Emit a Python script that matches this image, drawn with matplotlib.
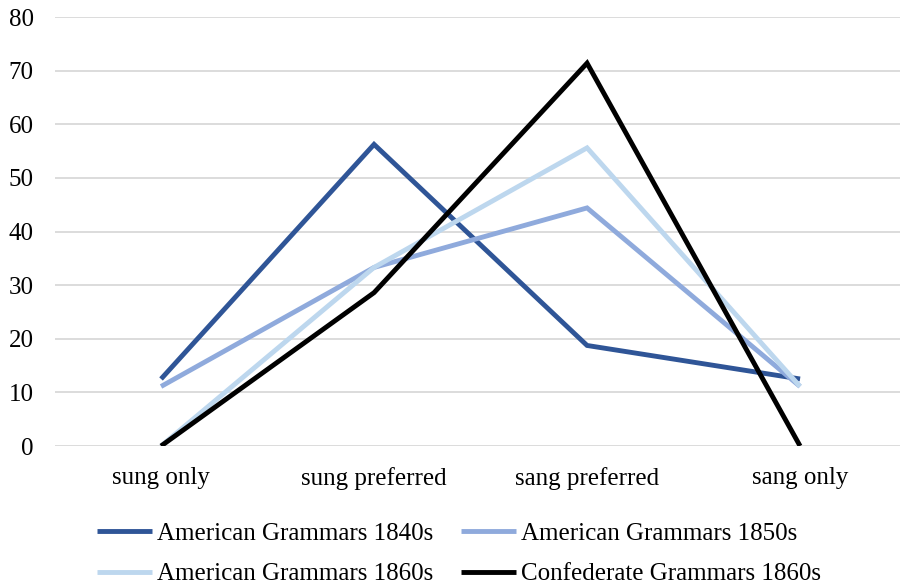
import matplotlib
matplotlib.use("Agg")
import matplotlib.pyplot as plt

# Share of grammars (%) recommending each past-tense form
categories = ["sung only", "sung preferred", "sang preferred", "sang only"]
american_1840s = [12.5, 56.25, 18.75, 12.5]
american_1850s = [11.1, 33.3, 44.4, 11.1]
american_1860s = [0, 33.3, 55.6, 11.1]
confederate_1860s = [0, 28.6, 71.4, 0]

series = [
    ("American Grammars 1840s", american_1840s, "#2F5597"),
    ("American Grammars 1850s", american_1850s, "#8FAADC"),
    ("American Grammars 1860s", american_1860s, "#BDD7EE"),
    ("Confederate Grammars 1860s", confederate_1860s, "#000000"),
]

plt.rcParams["font.family"] = ["Liberation Serif", "DejaVu Serif"]
plt.rcParams["font.size"] = 18

fig = plt.figure(figsize=(9, 5.85), dpi=100)
ax = fig.add_axes([0.0606, 0.2376, 0.9467, 0.7333])

x = range(len(categories))
lines = []
for label, values, color in series:
    (ln,) = ax.plot(x, values, color=color, linewidth=3.5, label=label,
                    solid_joinstyle="miter", solid_capstyle="butt", zorder=3)
    lines.append(ln)

ax.set_xlim(-0.5, 3.5)
ax.set_ylim(0, 80)
ax.set_yticks(range(0, 81, 10))
ax.set_xticks(list(x))
ax.set_xticklabels(categories)
ax.yaxis.grid(True, color="#D9D9D9", linewidth=1.3)
ax.set_axisbelow(True)
for side in ["top", "right", "left", "bottom"]:
    ax.spines[side].set_visible(False)
ax.tick_params(axis="both", length=0, colors="black")
ax.tick_params(axis="x", pad=15)
ax.tick_params(axis="y", pad=15)

# legend reads row by row: matplotlib fills columns first, so reorder
order = [0, 2, 1, 3]
fig.legend(handles=[lines[i] for i in order], ncol=2, loc="upper left",
           bbox_to_anchor=(0.1078, 0.107), frameon=False, borderpad=0,
           handlelength=2.2, handletextpad=0.2, columnspacing=1.1,
           labelspacing=0.72, borderaxespad=0)

fig.savefig("out.png", dpi=100)
